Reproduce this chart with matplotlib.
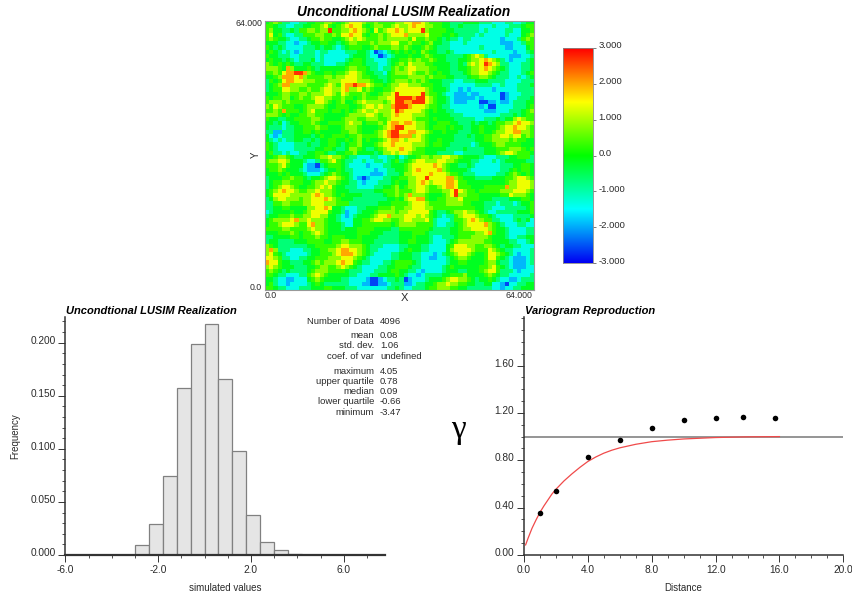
import numpy as np
import matplotlib
matplotlib.use("Agg")
import matplotlib.pyplot as plt
from matplotlib.colors import LinearSegmentedColormap
from matplotlib.ticker import MultipleLocator, FixedLocator
from matplotlib.transforms import ScaledTranslation

plt.rcParams['font.family'] = ['Liberation Sans', 'DejaVu Sans']

W, H = 853, 599

# Map levels, one character per cell, top row first
map_rows = [
"45653322 33445566 54567776 55655556 67788765 55443334 44433322 23322344",
"55433223 34455675 45678775 45665567 66787766 55443343 33322232 22333455",
"56443343 55665669 55667876 54756778 76777965 55544333 33323222 23322445",
"57453223 35556655 65778775 45565677 78666675 55445433 33232222 23222456",
"56544322 33455655 44567676 55565666 66575565 54343323 32222222 12223565",
"44433221 22344554 43456655 56566677 55655456 44332223 22222222 11122355",
"54343222 23334344 32345554 45655566 56544565 43332222 22232222 21122245",
"45432321 23332332 22233344 32012345 45454654 43343222 22222232 22212234",
"54433322 33332322 22223444 32201234 44544565 44433334 56763222 22111223",
"45443432 33342322 22234554 33222344 55656556 54433344 56678765 32122234",
"65454543 34433322 23345554 33322345 65766655 44443343 67679876 33222334",
"66654864 44543444 44456655 43323356 56776665 54443344 56678765 43222334",
"55657889 98654455 45567765 44332456 66765565 45443334 56677654 33222345",
"44568887 86555566 56677765 54433455 55666656 55544333 45566543 33223234",
"35457887 76665556 66777766 65443456 66565654 44333223 33444333 32222333",
"34568866 66555567 65788988 76554566 77666555 44332222 22333322 32223334",
"34557766 55655677 66786675 65445567 77777765 44432212 12222212 22223333",
"44456655 66566677 65765556 54456679 77777965 54322111 21122222 01222333",
"54556645 65567766 55655456 55566779 99989976 54432111 11212222 01223334",
"56665655 55557765 45644567 66665679 98899976 54432111 22200112 11233344",
"65765554 45666654 45554456 77676689 99877765 54332222 22212002 22233345",
"55658555 45675554 55454567 66766679 87777654 54433222 22221112 22333456",
"66654544 55665544 44456666 77656678 77766654 44443332 22222222 33343455",
"54433445 55566544 44566655 66655677 77765554 54444333 33223334 34467655",
"44342344 55565445 55567664 55565788 78876654 45554433 34344345 56678776",
"43332334 45556554 44566654 44456789 97776654 55545443 34454445 67787765",
"33113334 45545444 44556654 44567899 77887765 44544433 34454456 67788665",
"42123334 44434544 55545565 55567899 88867654 44444333 43445566 77677565",
"43232334 43343445 54454564 54456788 76777654 45444333 33445566 66565544",
"54322223 33433445 54345564 44567787 77766654 55443333 32344456 65555444",
"54322223 33334455 43346654 33456777 87765544 44433334 33334445 55666545",
"45332322 33445543 34455644 44346676 77655544 43333223 33334445 67765554",
"44566543 34445667 66543322 23322334 23445665 66776654 44432223 33445553",
"56677644 43223556 75433223 22332345 34567766 67766544 43322232 34444433",
"55567544 42110345 55432222 12223344 45677777 87654433 43222222 33344554",
"45565444 32111234 45433222 22122334 45678777 78654444 32222222 33454554",
"44454544 43222345 65443222 21112333 46677778 77765543 33222223 34565454",
"34445565 54344567 76543210 12223344 55667797 77788654 44333344 45567765",
"34556655 54456676 65443321 22233345 44667876 77788755 44444444 45667776",
"34567765 44556767 54433322 22334456 45667765 56788755 54445555 58667776",
"45678776 55667666 54443333 33445556 55567765 55667976 55455555 66677765",
"45777766 66678766 54544443 33334556 56866654 44567966 55544444 55766654",
"34677666 56677787 65444333 33333445 46778854 45566675 55544433 33444554",
"33556655 56677766 65553333 33344455 55677765 55566665 54443332 33323445",
"33445544 44667787 44322233 44455565 56677766 55555555 55443322 23333345",
"23444454 45677775 44312234 44566665 66777775 43345667 66543223 33334445",
"34455565 56677664 43212344 45677866 67776765 43233567 77655432 22233334",
"45666678 66766654 43222445 56776655 67766675 32223556 78765533 22234342",
"45567776 55786654 44322445 55555545 66665555 32233456 77778654 32223322",
"55556655 55676654 44344455 55444433 55555554 33334456 67777654 43222233",
"44455565 45567654 44444455 54443333 44455543 33334455 55667854 43222233",
"33444455 45556554 55544454 44433333 44454443 22333455 56666544 43223344",
"34433334 44555544 55665554 44333333 44554443 22234566 66665544 44332234",
"65433333 33445555 56776665 43332222 33444332 22245777 66556654 34433222",
"68633322 23344556 67887765 43322222 34544332 22246777 76555765 43322223",
"67543222 22344555 67888765 43222233 44433222 12345677 65445776 54321223",
"77653322 33445556 66777654 32222233 44433221 12234566 54445775 43211123",
"87754433 34456566 67877543 32223345 55543222 22234455 44445664 33211123",
"67654443 33445665 56765432 22233445 55433222 22345444 44455675 43211122",
"56543433 33456665 55543332 22333455 44332122 22344433 44456775 33321222",
"55433222 33567654 44443322 23344445 43221233 33445556 44445654 33222223",
"44322112 22456544 44332222 10012334 30122234 44567766 54344543 22112333",
"45322122 22345433 33332221 10011233 31123344 56676655 44334422 10223344",
"55433222 33344455 44433322 22222334 32233345 56665544 33333322 12233444",
]
level_values = [-2.6, -1.9, -1.35, -0.7, -0.2, 0.3, 0.8, 1.4, 2.0, 2.7]

map_ticks = [0, 64]
map_tick_labels = ["0.0", "64.000"]

cbar_ticks = [-3, -2, -1, 0, 1, 2, 3]
cbar_labels = ["-3.000", "-2.000", "-1.000", "0.0", "1.000", "2.000", "3.000"]

bin_edges_left = [-3.0, -2.4, -1.8, -1.2, -0.6, 0.0, 0.6, 1.2, 1.8, 2.4, 3.0, 3.6, 4.2]
bin_freq = [0.0091, 0.0292, 0.0744, 0.157, 0.1984, 0.218, 0.1655, 0.0983,
            0.0374, 0.0119, 0.0044, 0.0013, 0.0003]
bin_width = 0.6

stat_names = ["Number of Data", "mean", "std. dev.", "coef. of var", "maximum",
              "upper quartile", "median", "lower quartile", "minimum"]
stat_values = ["4096", "0.08", "1.06", "undefined", "4.05", "0.78", "0.09", "-0.66", "-3.47"]

vario_lag = [1.0, 2.0, 4.0, 6.0, 8.0, 10.0, 12.0, 13.7, 15.75]
vario_gamma = [0.352, 0.541, 0.828, 0.975, 1.073, 1.138, 1.16, 1.163, 1.16]
model_x = [0.1, 0.25, 0.5, 0.75, 1.0, 1.25, 1.5, 1.75, 2.0, 2.5, 3.0, 3.5, 4.0, 4.5, 5.0, 5.5, 6.0,
           7.0, 8.0, 9.0, 10.0, 12.0, 14.0, 16.0]
model_y = [0.085, 0.14, 0.225, 0.295, 0.36, 0.415, 0.465, 0.515, 0.555, 0.625, 0.685, 0.74, 0.79,
           0.828, 0.86, 0.885, 0.905, 0.935, 0.957, 0.97, 0.98, 0.992, 0.998, 1.0]
sill = 1.0

GRAY = "#333333"
TXT = "#2a2a2a"

fig = plt.figure(figsize=(W / 100, H / 100), dpi=100)


def axpx(x0, y0, x1, y1):
    return fig.add_axes([x0 / W, 1 - y1 / H, (x1 - x0) / W, (y1 - y0) / H])


def tpx(x, y, s, **kw):
    kw.setdefault("color", TXT)
    kw.setdefault("va", "center")
    return fig.text(x / W, 1 - y / H, s, **kw)


rainbow = LinearSegmentedColormap.from_list(
    "gslib", [(0, 0, 0.95), (0, 1, 1), (0, 1, 0), (1, 1, 0), (1, 0, 0)], N=256)

# Map
lut = np.array(level_values)
grid = lut[np.array([[int(c) for c in r.replace(" ", "")] for r in map_rows])]
ax = axpx(265, 21, 534, 290)
ax.imshow(grid, cmap=rainbow, vmin=-3, vmax=3, extent=[0, 64, 0, 64],
          origin="upper", interpolation="nearest", aspect="auto")
ax.set_xticks([])
ax.set_yticks([])
for s in ax.spines.values():
    s.set_color("#999999")
    s.set_linewidth(0.8)
tpx(404, 12, "Unconditional LUSIM Realization", fontsize=9.8, fontweight="bold",
    fontstyle="italic", ha="center", color="black")
tpx(262, 24, map_tick_labels[1], fontsize=6.3, ha="right")
tpx(262, 287, map_tick_labels[0], fontsize=6.3, ha="right")
tpx(265, 296, map_tick_labels[0], fontsize=6.3, ha="left")
tpx(532, 296, map_tick_labels[1], fontsize=6.3, ha="right")
tpx(404, 298, "X", fontsize=8, ha="center")
tpx(256, 155, "Y", fontsize=7, ha="center", rotation=90)

# Colour bar
cax = axpx(563, 48, 593, 263)
cax.imshow(np.linspace(3, -3, 256)[:, None], cmap=rainbow, vmin=-3, vmax=3,
           extent=[0, 1, -3, 3], aspect="auto")
cax.set_xticks([])
cax.yaxis.tick_right()
cax.set_yticks(cbar_ticks)
cax.set_yticklabels(cbar_labels, fontsize=6.8, color=TXT)
cax.tick_params(axis="y", length=2.5, width=0.6, color="#666666", pad=1.5)
off = ScaledTranslation(0, 3 / 100, fig.dpi_scale_trans)
for lab in cax.get_yticklabels():
    lab.set_transform(lab.get_transform() + off)
for s in cax.spines.values():
    s.set_color("#888888")
    s.set_linewidth(0.6)


def style(a, xmaj, xmin, ymaj, ymin, xfmt, yfmt):
    for side in ("top", "right"):
        a.spines[side].set_visible(False)
    a.spines["left"].set_color(GRAY)
    a.spines["left"].set_linewidth(1.1)
    a.spines["bottom"].set_color(GRAY)
    a.spines["bottom"].set_linewidth(1.1)
    a.xaxis.set_major_locator(FixedLocator(xmaj))
    a.xaxis.set_minor_locator(MultipleLocator(xmin))
    a.yaxis.set_major_locator(FixedLocator(ymaj))
    a.yaxis.set_minor_locator(MultipleLocator(ymin))
    a.set_xticklabels([xfmt.format(v) for v in xmaj])
    a.set_yticklabels([yfmt.format(v) for v in ymaj])
    a.tick_params(axis="both", which="major", length=5, width=0.7, color=GRAY,
                  labelsize=7.3, labelcolor=TXT, pad=2)
    a.tick_params(axis="both", which="minor", length=2.5, width=0.6, color=GRAY)
    off2 = ScaledTranslation(0, 3 / 100, fig.dpi_scale_trans)
    for lab in a.get_yticklabels():
        lab.set_transform(lab.get_transform() + off2)


# Histogram
hx = axpx(65.3, 316.7, 385, 555)
hx.bar(bin_edges_left, bin_freq, width=bin_width, align="edge", color="#e5e5e5",
       edgecolor="#808080", linewidth=0.9)
hx.set_xlim(-6, 7.78)
hx.set_ylim(0, 0.2245)
style(hx, [-6, -2, 2, 6], 1.0, [0, 0.05, 0.1, 0.15, 0.2], 0.01, "{:.1f}", "{:.3f}")
hx.spines["bottom"].set_linewidth(1.6)
tpx(66.5, 311, "Uncondtional LUSIM Realization", fontsize=8, fontweight="bold",
    fontstyle="italic", ha="left", color="black")
tpx(15, 436, "Frequency", fontsize=7, rotation=90, ha="center")
tpx(225, 588, "simulated values", fontsize=7, ha="center")
stat_y = [321, 335, 345.7, 356.7, 371, 381.3, 392, 402, 412.3]
for y, name, val in zip(stat_y, stat_names, stat_values):
    tpx(374, y, name, fontsize=6.8, ha="right")
    tpx(380, y, val, fontsize=6.8, ha="left")

# Variogram
vx = axpx(524, 317, 843.3, 555)
vx.axhline(sill, color="#8c8c8c", linewidth=1.3, zorder=1)
vx.plot(model_x, model_y, color="#f04a4a", linewidth=0.9, zorder=2)
vx.scatter(vario_lag, vario_gamma, s=16, color="black", zorder=3, linewidths=0)
vx.set_xlim(0, 20)
vx.set_ylim(0, 2.01)
style(vx, [0, 4, 8, 12, 16, 20], 1.0, [0, 0.4, 0.8, 1.2, 1.6], 0.1, "{:.1f}", "{:.2f}")
tpx(525, 311, "Variogram Reproduction", fontsize=8, fontweight="bold",
    fontstyle="italic", ha="left", color="black")
tpx(683, 588, "Distance", fontsize=7, ha="center")
tpx(458, 430, "\u03b3", fontsize=24, ha="center", family="Liberation Serif", color="black")

fig.savefig("out.png", dpi=100, facecolor="white")
